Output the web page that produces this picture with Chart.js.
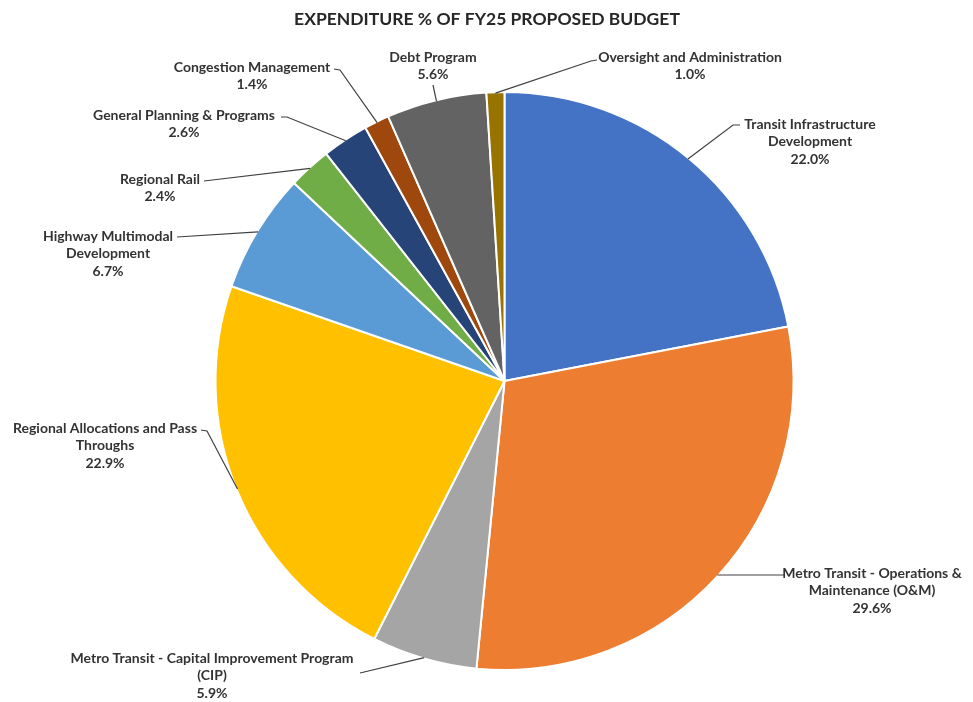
<!DOCTYPE html>
<html>
<head>
<meta charset="utf-8">
<script src="https://cdn.jsdelivr.net/npm/chart.js@4.4.1/dist/chart.umd.min.js"></script>
<style>
  html, body { margin: 0; padding: 0; background: #fff; }
  #wrap { width: 973px; height: 702px; }
</style>
</head>
<body>
<div id="wrap"><canvas id="budgetChart" width="973" height="702"></canvas></div>
<script>
const chartTitle = 'EXPENDITURE % OF FY25 PROPOSED BUDGET';

// Categories, clockwise from 12 o'clock
const categories = [
    'Transit Infrastructure Development',
    'Metro Transit - Operations & Maintenance (O&M)',
    'Metro Transit - Capital Improvement Program (CIP)',
    'Regional Allocations and Pass Throughs',
    'Highway Multimodal Development',
    'Regional Rail',
    'General Planning & Programs',
    'Congestion Management',
    'Debt Program',
    'Oversight and Administration'
];
const percents = [22.0, 29.6, 5.9, 22.9, 6.7, 2.4, 2.6, 1.4, 5.6, 1.0];

// How each label wraps on the picture
const labelLines = [
    ['Transit Infrastructure', 'Development'],
    ['Metro Transit - Operations &', 'Maintenance (O&M)'],
    ['Metro Transit - Capital Improvement Program', '(CIP)'],
    ['Regional Allocations and Pass', 'Throughs'],
    ['Highway Multimodal', 'Development'],
    ['Regional Rail'],
    ['General Planning & Programs'],
    ['Congestion Management'],
    ['Debt Program'],
    ['Oversight and Administration']
];

const sliceColors = ['#4472C4', '#ED7D31', '#A5A5A5', '#FFC000', '#5B9BD5',
                     '#70AD47', '#264478', '#9E480E', '#636363', '#997300'];

// Label placement: text centre x, first line y, leader start and elbow
const labelPos = [
    { x: 810, y: 124, sx: 740, sy: 125, ex: 733, ey: 125 },
    { x: 872, y: 573, sx: 784, sy: 575, ex: 784, ey: 575 },
    { x: 212, y: 658, sx: 360, sy: 673, ex: 360, ey: 673 },
    { x: 105, y: 428, sx: 201, sy: 430, ex: 207, ey: 431 },
    { x: 108, y: 236, sx: 177, sy: 237, ex: 177, ey: 237 },
    { x: 160, y: 179, sx: 204, sy: 181, ex: 204, ey: 181 },
    { x: 184, y: 115, sx: 281, sy: 117, ex: 287, ey: 117 },
    { x: 252, y: 67, sx: 334, sy: 69, ex: 340, ey: 70 },
    { x: 433, y: 57, sx: 433, sy: 85, ex: 433, ey: 85 },
    { x: 690, y: 57, sx: 597, sy: 60, ex: 591, ey: 61 }
];

const labelFont = 'bold 14px Lato, "Noto Sans", sans-serif';
const lineGap = 17.5;

const labelPlugin = {
    id: 'pieLabels',
    afterDraw(chart) {
        const ctx = chart.ctx;
        ctx.save();
        // title
        ctx.fillStyle = '#262626';
        ctx.font = 'bold 17.5px Lato, "Noto Sans", sans-serif';
        ctx.textAlign = 'center';
        ctx.textBaseline = 'middle';
        ctx.fillText(chartTitle, 487, 19);

        const arcs = chart.getDatasetMeta(0).data;
        arcs.forEach((arc, i) => {
            const p = labelPos[i];
            const mid = (arc.startAngle + arc.endAngle) / 2;
            const px = arc.x + Math.cos(mid) * (arc.outerRadius - 1);
            const py = arc.y + Math.sin(mid) * (arc.outerRadius - 1);

            ctx.strokeStyle = '#404040';
            ctx.lineWidth = 1.2;
            ctx.beginPath();
            ctx.moveTo(p.sx, p.sy);
            ctx.lineTo(p.ex, p.ey);
            ctx.lineTo(px, py);
            ctx.stroke();

            ctx.fillStyle = '#333333';
            ctx.font = labelFont;
            const lines = labelLines[i].concat([percents[i].toFixed(1) + '%']);
            lines.forEach((t, k) => ctx.fillText(t, p.x, p.y + k * lineGap));
        });
        ctx.restore();
    }
};

new Chart(document.getElementById('budgetChart').getContext('2d'), {
    type: 'pie',
    data: {
        labels: categories,
        datasets: [{
            data: percents,
            backgroundColor: sliceColors,
            borderColor: '#ffffff',
            borderWidth: 2
        }]
    },
    options: {
        responsive: false,
        animation: false,
        layout: { padding: { left: 214, right: 178, top: 91, bottom: 31 } },
        plugins: {
            legend: { display: false },
            title: { display: false },
            tooltip: { enabled: false }
        }
    },
    plugins: [labelPlugin]
});
</script>
</body>
</html>
